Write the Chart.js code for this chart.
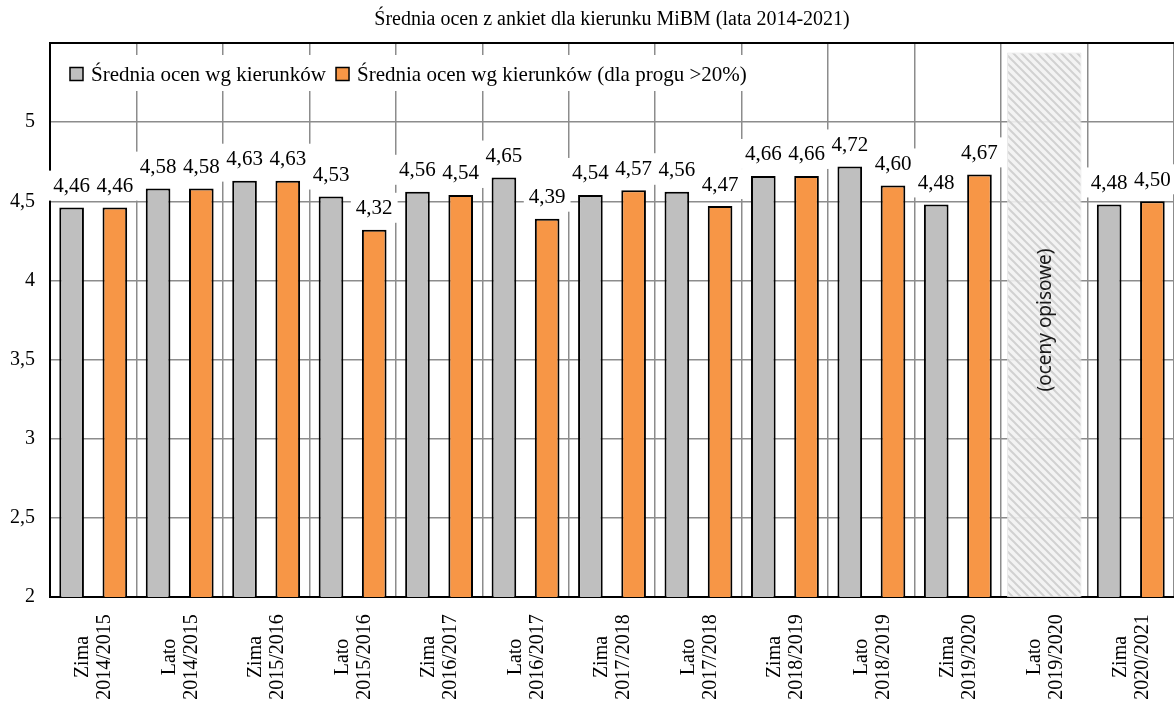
<!DOCTYPE html>
<html>
<head>
<meta charset="utf-8">
<script src="https://cdn.jsdelivr.net/npm/chart.js@4.4.1/dist/chart.umd.min.js"></script>
<style>
  html, body { margin: 0; padding: 0; background: #fff; }
  #wrap { width: 1174px; height: 704px; }
</style>
</head>
<body>
<div id="wrap"><canvas id="chart"></canvas></div>
<script>
// dane
var semestry = ["Zima", "Lato", "Zima", "Lato", "Zima", "Lato", "Zima", "Lato", "Zima", "Lato", "Zima", "Lato", "Zima"];
var lata = ["2014/2015", "2014/2015", "2015/2016", "2015/2016", "2016/2017", "2016/2017", "2017/2018", "2017/2018", "2018/2019", "2018/2019", "2019/2020", "2019/2020", "2020/2021"];
var sredniaKierunki = [4.46, 4.58, 4.63, 4.53, 4.56, 4.65, 4.54, 4.56, 4.66, 4.72, 4.48, null, 4.48];
var sredniaProg = [4.46, 4.58, 4.63, 4.32, 4.54, 4.39, 4.57, 4.47, 4.66, 4.60, 4.67, null, 4.50];
var ocenyOpisowe = [null, null, null, null, null, null, null, null, null, null, null, 5.44, null];
var yTicks = [2, 2.5, 3, 3.5, 4, 4.5, 5];

var serif = '"Liberation Serif", "Times New Roman", serif';

function fmt(v) { return String(v).replace('.', ','); }

// kreskowanie dla semestru z ocenami opisowymi
function hatch() {
  var c = document.createElement('canvas');
  c.width = 8; c.height = 8;
  var g = c.getContext('2d');
  g.fillStyle = 'rgba(242,242,242,0.9)';
  g.fillRect(0, 0, 8, 8);
  g.strokeStyle = 'rgba(208,208,208,0.95)';
  g.lineWidth = 2;
  g.beginPath();
  g.moveTo(-2, -2); g.lineTo(10, 10);
  g.moveTo(-2, 6); g.lineTo(2, 10);
  g.moveTo(6, -2); g.lineTo(10, 2);
  g.stroke();
  return g.createPattern(c, 'repeat');
}

var valueLabels = {
  id: 'valueLabels',
  afterDatasetsDraw: function(chart) {
    var ctx = chart.ctx;
    ctx.save();
    ctx.font = '21px ' + serif;
    ctx.textAlign = 'center';
    ctx.textBaseline = 'middle';
    for (var i = 0; i < semestry.length; i++) {
      [0, 1].forEach(function(di) {
        var v = chart.data.datasets[di].data[i];
        if (v == null) return;
        var bar = chart.getDatasetMeta(di).data[i];
        var txt = v.toFixed(2).replace('.', ',');
        var w = ctx.measureText(txt).width;
        var y = bar.y - 22;
        ctx.fillStyle = '#fff';
        ctx.fillRect(bar.x - w / 2 - 5, y - 15, w + 10, 30);
        ctx.fillStyle = '#000';
        ctx.fillText(txt, bar.x, y + 1);
      });
    }
    // napis na kreskowanym słupku
    var hb = chart.getDatasetMeta(2).data[11];
    ctx.translate(hb.x + 1, 320);
    ctx.rotate(-Math.PI / 2);
    ctx.font = '19px "Noto Sans", "Open Sans", sans-serif';
    ctx.fillStyle = '#1a1a1a';
    ctx.fillText('(oceny opisowe)', 0, 0);
    ctx.restore();
  },
  afterDraw: function(chart) {
    var ctx = chart.ctx;
    var area = chart.chartArea;
    ctx.save();
    // legenda wewnątrz obszaru wykresu
    ctx.font = '21px ' + serif;
    ctx.textBaseline = 'middle';
    ctx.textAlign = 'left';
    var items = [chart.data.datasets[0], chart.data.datasets[1]];
    var x = area.left + 20, y = 74;
    var total = 0;
    items.forEach(function(ds) { total += 13 + 8 + ctx.measureText(ds.label).width + 10; });
    ctx.fillStyle = '#fff';
    ctx.fillRect(area.left + 6, 55, total + 22, 36);
    items.forEach(function(ds) {
      ctx.fillStyle = ds.backgroundColor;
      ctx.fillRect(x, y - 6.5, 13, 13);
      ctx.strokeStyle = '#000';
      ctx.lineWidth = 1.5;
      ctx.strokeRect(x, y - 6.5, 13, 13);
      ctx.fillStyle = '#000';
      ctx.fillText(ds.label, x + 21, y + 1);
      x += 13 + 8 + ctx.measureText(ds.label).width + 10;
    });
    // etykiety osi X, dwie linie wyśrodkowane
    var sx = chart.scales.x;
    ctx.font = '20px ' + serif;
    ctx.textAlign = 'center';
    for (var i = 0; i < semestry.length; i++) {
      var px = sx.getPixelForTick(i);
      ctx.save();
      ctx.translate(px, 657);
      ctx.rotate(-Math.PI / 2);
      ctx.fillText(semestry[i], 0, -10);
      ctx.fillText(lata[i], 0, 12);
      ctx.restore();
    }
    ctx.restore();
  }
};

new Chart(document.getElementById('chart'), {
  type: 'bar',
  data: {
    labels: semestry.map(function(s, i) { return s + ' ' + lata[i]; }),
    datasets: [
      {
        label: 'Średnia ocen wg kierunków',
        data: sredniaKierunki,
        backgroundColor: '#BFBFBF',
        borderColor: '#000',
        borderWidth: 2,
        categoryPercentage: 1,
        barPercentage: 0.57
      }, {
        label: 'Średnia ocen wg kierunków (dla progu >20%)',
        data: sredniaProg,
        backgroundColor: '#F79646',
        borderColor: '#000',
        borderWidth: 2,
        categoryPercentage: 1,
        barPercentage: 0.57
      }, {
        label: 'oceny opisowe',
        data: ocenyOpisowe,
        backgroundColor: hatch(),
        borderColor: '#e4e4e4',
        borderWidth: 1,
        grouped: false,
        categoryPercentage: 1,
        barPercentage: 0.86
      }
    ]
  },
  options: {
    responsive: true, maintainAspectRatio: false, animation: false,
    layout: { padding: { left: 0, right: 0, top: 0, bottom: 0 } },
    plugins: {
      legend: { display: false },
      tooltip: { enabled: false },
      title: {
        display: true, fullSize: false,
        text: 'Średnia ocen z ankiet dla kierunku MiBM (lata 2014-2021)',
        color: '#000', font: { family: serif, size: 20, weight: 'normal', lineHeight: 1.2 },
        padding: { top: 8, bottom: 11 }
      }
    },
    scales: {
      x: {
        grid: { offset: true, color: '#8c8c8c', lineWidth: 1.5, drawTicks: false },
        border: { color: '#000', width: 2 },
        ticks: { display: false },
        afterFit: function(s) { s.height = 107; }
      },
      y: {
        min: 2, max: 5.5,
        afterBuildTicks: function(s) {
          s.ticks = yTicks.concat([5.5]).map(function(v) { return { value: v }; });
        },
        grid: {
          color: function(c) { return c.tick && c.tick.value === 5.5 ? '#000' : '#8c8c8c'; },
          lineWidth: function(c) { return c.tick && c.tick.value === 5.5 ? 2 : 1.5; },
          drawTicks: false
        },
        border: { color: '#000', width: 2 },
        ticks: {
          color: '#000', padding: 15,
          font: { family: serif, size: 20 },
          callback: function(v) { return yTicks.indexOf(v) >= 0 ? fmt(v) : ''; }
        },
        afterFit: function(s) { s.width = 50; }
      }
    }
  },
  plugins: [valueLabels]
});
</script>
</body>
</html>
